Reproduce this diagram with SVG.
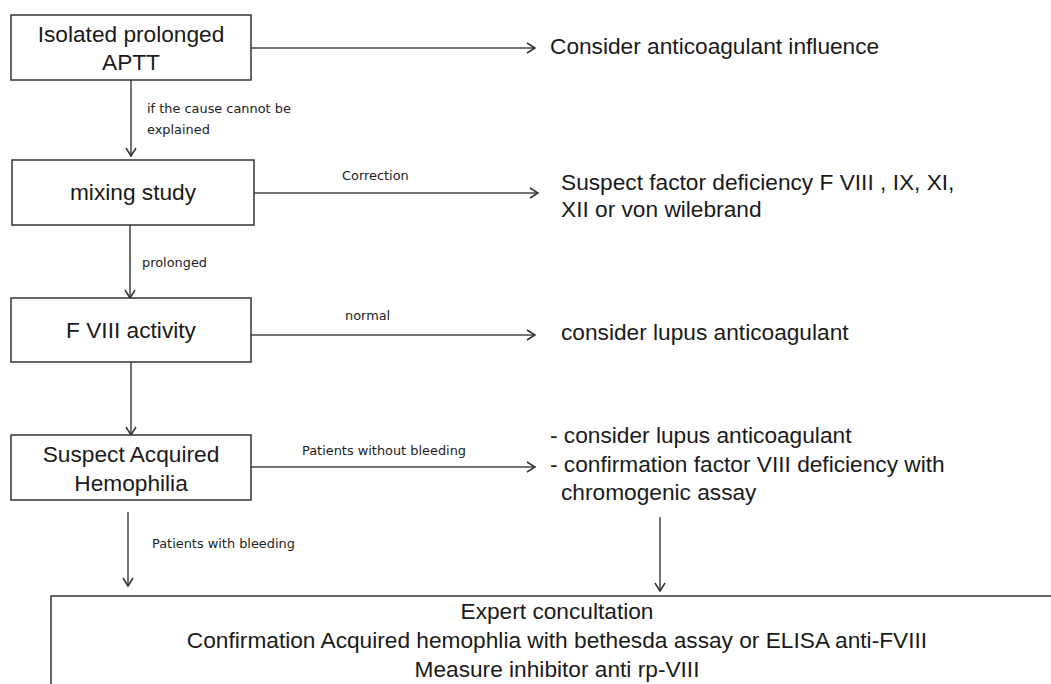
<svg xmlns="http://www.w3.org/2000/svg" width="1051" height="684" viewBox="0 0 1051 684">
<style>
.box{fill:#fff;stroke:#333;stroke-width:1.5}
.main{font-family:"Liberation Sans",Arial,sans-serif;font-size:22.7px;fill:#1a1a1a}
.mid{text-anchor:middle}
.lbl{font-family:"DejaVu Sans",Verdana,sans-serif;font-size:12.9px;fill:#222}
.con{stroke:#444;stroke-width:1.5;fill:none;marker-end:url(#arr)}
</style>
<defs>
<marker id="arr" markerUnits="userSpaceOnUse" markerWidth="12" markerHeight="12" refX="9" refY="6" orient="auto">
<path d="M1,1 L9,6 L1,11" fill="none" stroke="#333" stroke-width="1.5"/>
</marker>
</defs>
<rect width="1051" height="684" fill="#fff"/>
<g id="connectors">
<line class="con" x1="251" y1="48" x2="535" y2="48"/>
<line class="con" x1="131" y1="80" x2="131" y2="156"/>
<line class="con" x1="254" y1="193" x2="538" y2="193"/>
<line class="con" x1="130" y1="225" x2="130" y2="298"/>
<line class="con" x1="251" y1="335" x2="535" y2="335"/>
<line class="con" x1="131" y1="362" x2="131" y2="435"/>
<line class="con" x1="251" y1="467" x2="535" y2="467"/>
<line class="con" x1="128" y1="512" x2="128" y2="586"/>
<line class="con" x1="660" y1="517" x2="660" y2="591"/>
<text class="lbl" x="147" y="113">if the cause cannot be</text>
<text class="lbl" x="147" y="134">explained</text>
<text class="lbl" x="342" y="180">Correction</text>
<text class="lbl" x="142" y="267">prolonged</text>
<text class="lbl" x="345" y="320">normal</text>
<text class="lbl" x="302" y="455">Patients without bleeding</text>
<text class="lbl" x="152" y="548">Patients with bleeding</text>
</g>
<g id="n1">
<rect class="box" x="11" y="15" width="240" height="65"/>
<text class="main mid" x="131" y="42">Isolated prolonged</text>
<text class="main mid" x="131" y="70">APTT</text>
</g>
<g id="r1">
<text class="main" x="550" y="54">Consider anticoagulant influence</text>
</g>
<g id="n2">
<rect class="box" x="12" y="160" width="242" height="65"/>
<text class="main mid" x="133" y="200">mixing study</text>
</g>
<g id="r2">
<text class="main" x="561" y="190">Suspect factor deficiency F VIII , IX, XI,</text>
<text class="main" x="561" y="217">XII or von wilebrand</text>
</g>
<g id="n3">
<rect class="box" x="11" y="298" width="240" height="64"/>
<text class="main mid" x="131" y="338">F VIII activity</text>
</g>
<g id="r3">
<text class="main" x="561" y="340">consider lupus anticoagulant</text>
</g>
<g id="n4">
<rect class="box" x="11" y="435" width="240" height="65"/>
<text class="main mid" x="131" y="462">Suspect Acquired</text>
<text class="main mid" x="131" y="491">Hemophilia</text>
</g>
<g id="r4">
<text class="main" x="550" y="443">- consider lupus anticoagulant</text>
<text class="main" x="550" y="472">- confirmation factor VIII deficiency with</text>
<text class="main" x="561" y="500">chromogenic assay</text>
</g>
<g id="n5">
<rect class="box" x="51" y="596" width="1020" height="110"/>
<text class="main mid" x="557" y="619">Expert concultation</text>
<text class="main mid" x="557" y="648">Confirmation Acquired hemophlia with bethesda assay or ELISA anti-FVIII</text>
<text class="main mid" x="557" y="677">Measure inhibitor anti rp-VIII</text>
</g>
</svg>
